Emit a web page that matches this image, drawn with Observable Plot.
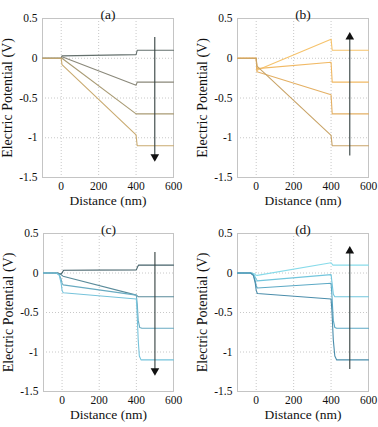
<!DOCTYPE html>
<html>
<head>
<meta charset="utf-8">
<script src="https://cdn.jsdelivr.net/npm/d3@7"></script>
<script src="https://cdn.jsdelivr.net/npm/@observablehq/plot@0.6"></script>
<style>
  html, body { margin: 0; padding: 0; background: #fff; }
  #root { position: relative; width: 378px; height: 427px; overflow: hidden; }
  .cell { position: absolute; }
  .cell svg { display: block; font-family: "Liberation Serif", "DejaVu Serif", serif !important; }
  .cell svg text { font-family: "Liberation Serif", "DejaVu Serif", serif !important; }
</style>
</head>
<body>
<div id="root"></div>
<script>
// ---- data (x in nm, y in V) ----
const xTicks = [0, 200, 400, 600];
const yTicks = [-1.5, -1, -0.5, 0, 0.5];
const panelLabels = ["(a)", "(b)", "(c)", "(d)"];

const aL1 = [[-100,0],[0,0],[4,0.03],[400,0.045],[406,0.1],[600,0.1]];
const aL2 = [[-100,0],[0,0],[4,0.02],[400,-0.34],[406,-0.3],[600,-0.3]];
const aL3 = [[-100,0],[0,0],[4,0.0],[400,-0.7],[600,-0.7]];
const aL4 = [[-100,0],[0,0],[4,-0.08],[400,-0.965],[406,-1.1],[600,-1.1]];

const bL1 = [[-100,0],[0,0],[4,-0.15],[400,0.24],[406,0.1],[600,0.1]];
const bL2 = [[-100,0],[0,0],[4,-0.13],[400,-0.05],[406,-0.3],[600,-0.3]];
const bL3 = [[-100,0],[0,0],[4,-0.17],[400,-0.46],[406,-0.7],[600,-0.7]];
const bL4 = [[-100,0],[0,0],[4,-0.1],[400,-0.97],[406,-1.1],[600,-1.1]];

const cL1 = [[-100,0],[-25,0],[-10,-0.015],[0,0.0],[8,0.035],[400,0.04],[405,0.07],[412,0.1],[600,0.1]];
const cL2 = [[-100,0],[-25,0],[-10,-0.01],[0,-0.03],[5,-0.04],[400,-0.28],[410,-0.3],[600,-0.3]];
const cL3 = [[-100,0],[-30,0],[-15,-0.02],[-5,-0.08],[0,-0.13],[6,-0.15],[400,-0.28],[405,-0.4],[410,-0.6],[418,-0.69],[430,-0.7],[600,-0.7]];
const cL4 = [[-100,0],[-30,0],[-15,-0.03],[-5,-0.13],[0,-0.22],[6,-0.25],[400,-0.33],[404,-0.5],[410,-0.85],[416,-1.05],[425,-1.1],[600,-1.1]];

const dL1 = [[-100,0],[-25,0],[-10,-0.01],[0,-0.03],[6,-0.03],[400,0.13],[410,0.1],[600,0.1]];
const dL2 = [[-100,0],[-25,0],[-10,-0.03],[0,-0.08],[6,-0.1],[400,-0.02],[405,-0.12],[412,-0.27],[420,-0.3],[600,-0.3]];
const dL3 = [[-100,0],[-30,0],[-15,-0.03],[-5,-0.1],[0,-0.16],[6,-0.19],[400,-0.13],[405,-0.3],[412,-0.6],[420,-0.69],[430,-0.7],[600,-0.7]];
const dL4 = [[-100,0],[-30,0],[-15,-0.03],[-5,-0.13],[0,-0.22],[6,-0.26],[400,-0.33],[405,-0.5],[412,-0.85],[420,-1.05],[430,-1.1],[600,-1.1]];

const aColors = ["#64706d", "#8a887a", "#a99b74", "#c9aa70"];
const bColors = ["#f6c36c", "#f1b964", "#e4b064", "#c9a468"];
const cColors = ["#45626a", "#5a8b9a", "#68abc2", "#76c3db"];
const dColors = ["#88dbea", "#72c6dd", "#5ca9c5", "#4a8dab"];

// arrow: x, start y, end y (head at end)
const aArrow = [500, 0.26, -1.27];
const bArrow = [500, -1.23, 0.3];
const cArrow = [500, 0.26, -1.27];
const dArrow = [500, -1.22, 0.31];

const FONT = '"Liberation Serif", "DejaVu Serif", serif';

const panels = [
  {label: panelLabels[0], lines: [aL1,aL2,aL3,aL4], colors: aColors, arrow: aArrow, left: 0,   top: 0,   w: 189, h: 212, ml: 42, mr: 16, mt: 18, mb: 35},
  {label: panelLabels[1], lines: [bL1,bL2,bL3,bL4], colors: bColors, arrow: bArrow, left: 189, top: 0,   w: 189, h: 212, ml: 48, mr: 10, mt: 18, mb: 35},
  {label: panelLabels[2], lines: [cL1,cL2,cL3,cL4], colors: cColors, arrow: cArrow, left: 0,   top: 212, w: 189, h: 215, ml: 43, mr: 16, mt: 21, mb: 36},
  {label: panelLabels[3], lines: [dL1,dL2,dL3,dL4], colors: dColors, arrow: dArrow, left: 189, top: 212, w: 189, h: 215, ml: 48, mr: 10, mt: 21, mb: 36}
];

const root = document.getElementById("root");
for (const p of panels) {
  const lineMarks = p.lines.map((pts, i) =>
    Plot.line(pts, {x: d => d[0], y: d => d[1], stroke: p.colors[i], strokeWidth: 1.1})
  );
  const [ax, ay1, ay2] = p.arrow;
  const down = ay2 < ay1;
  const chart = Plot.plot({
    width: p.w, height: p.h,
    marginLeft: p.ml, marginRight: p.mr, marginTop: p.mt, marginBottom: p.mb,
    style: {fontFamily: FONT, background: "#fff", overflow: "visible"},
    x: {domain: [-100, 600], ticks: xTicks},
    y: {domain: [-1.5, 0.5], ticks: yTicks},
    marks: [
      Plot.gridX([0, 200, 400], {stroke: "#c8c8c8", strokeOpacity: 1, strokeDasharray: "1,2"}),
      Plot.gridY([-1, -0.5, 0], {stroke: "#c8c8c8", strokeOpacity: 1, strokeDasharray: "1,2"}),
      Plot.frame({stroke: "#c4c4c4"}),
      Plot.axisX(xTicks, {tickSize: 0, tickPadding: 4, fontSize: 11.5, fontFamily: FONT, fill: "#111", label: null, tickFormat: d => String(d)}),
      Plot.axisY(yTicks, {tickSize: 0, tickPadding: 5, fontSize: 11.5, fontFamily: FONT, fill: "#111", label: null, tickFormat: d => String(d)}),
      ...lineMarks,
      Plot.ruleX([ax], {y1: ay1, y2: down ? ay2 + 0.04 : ay2 - 0.04, stroke: "#34403f", strokeWidth: 1.1}),
      Plot.dot([[ax, ay2]], {x: d => d[0], y: d => d[1], symbol: "triangle", r: 3.2, fill: "#111", stroke: "none",
        rotate: down ? 180 : 0, dy: down ? -2.5 : 2.5}),
      Plot.text([p.label], {frameAnchor: "top", dy: -9, fontSize: 13.5, fontFamily: FONT, text: d => d, fill: "#111"}),
      Plot.text(["Distance (nm)"], {frameAnchor: "bottom", dy: 27, fontSize: 13.5, fontFamily: FONT, text: d => d, fill: "#111"}),
      Plot.text(["Electric Potential (V)"], {frameAnchor: "left", textAnchor: "middle", dx: -35, rotate: -90, fontSize: 14, fontFamily: FONT, text: d => d, fill: "#111"})
    ]
  });
  const cell = document.createElement("div");
  cell.className = "cell";
  cell.style.left = p.left + "px";
  cell.style.top = p.top + "px";
  cell.appendChild(chart);
  root.appendChild(cell);
}
</script>
</body>
</html>
